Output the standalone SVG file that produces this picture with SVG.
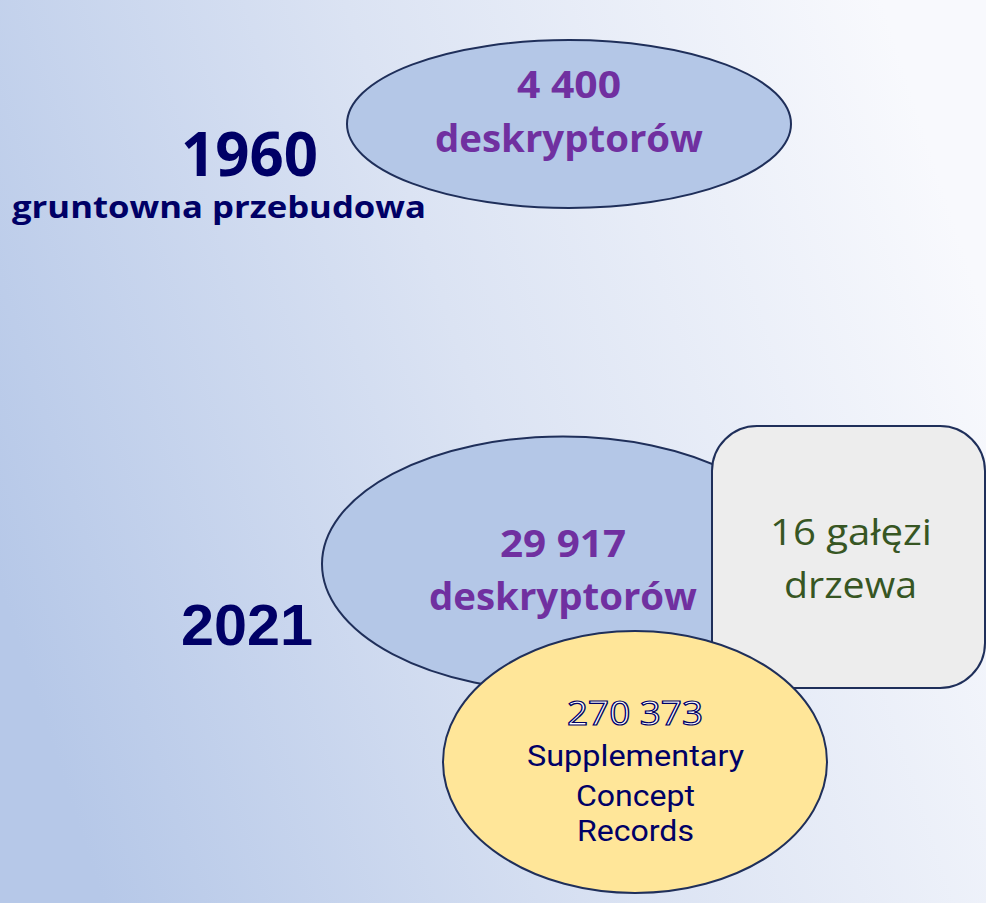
<svg xmlns="http://www.w3.org/2000/svg" width="986" height="903" viewBox="0 0 986 903">
<defs>
<linearGradient id="bg" x1="0" y1="0.65" x2="1" y2="0.35">
<stop offset="0" stop-color="#b6c8e8"/>
<stop offset="0.5" stop-color="#dbe3f3"/>
<stop offset="1" stop-color="#f8f9fd"/>
</linearGradient>
<style>
.shape{stroke:#1f2f5a;stroke-width:2}
.cal{font-family:"Open Sans","Noto Sans",sans-serif;text-anchor:middle}
.purple{fill:#7030a0;font-weight:bold}
.navy{fill:#000066;font-weight:bold}
.green{fill:#375623}
.rob{font-family:Roboto,"Liberation Sans",sans-serif;fill:#000066;text-anchor:middle;font-size:29px}
</style>
</defs>
<rect width="986" height="903" fill="url(#bg)"/>

<g id="label-1960">
<text class="cal navy" x="249.5" y="176" font-size="60" textLength="137" lengthAdjust="spacingAndGlyphs">1960</text>
<text class="cal navy" x="219" y="218" font-size="30" textLength="414" lengthAdjust="spacingAndGlyphs">gruntowna przebudowa</text>
</g>

<g id="node-4400">
<ellipse class="shape" cx="569" cy="124" rx="222" ry="84" fill="#b4c7e7"/>
<text class="cal purple" x="569" y="98" font-size="37" textLength="104" lengthAdjust="spacingAndGlyphs">4 400</text>
<text class="cal purple" x="569" y="152" font-size="37" textLength="268" lengthAdjust="spacingAndGlyphs">deskryptorów</text>
</g>

<g id="label-2021">
<text x="247" y="645" font-family="Liberation Sans,Arial,sans-serif" font-weight="bold" font-size="58" fill="#000066" text-anchor="middle" textLength="132" lengthAdjust="spacingAndGlyphs">2021</text>
</g>

<g id="node-29917">
<ellipse class="shape" cx="563" cy="564" rx="241" ry="127.5" fill="#b4c7e7"/>
<text class="cal purple" x="563" y="557" font-size="37" textLength="126" lengthAdjust="spacingAndGlyphs">29 917</text>
<text class="cal purple" x="563" y="610" font-size="37" textLength="268" lengthAdjust="spacingAndGlyphs">deskryptorów</text>
</g>

<g id="node-galezi">
<rect class="shape" x="712" y="426" width="273" height="262" rx="45" fill="#ededed"/>
<text class="cal green" x="851" y="545" font-size="37" textLength="162" lengthAdjust="spacingAndGlyphs">16 gałęzi</text>
<text class="cal green" x="850.5" y="598" font-size="37" textLength="133" lengthAdjust="spacingAndGlyphs">drzewa</text>
</g>

<g id="node-scr">
<ellipse class="shape" cx="635" cy="762" rx="192" ry="131" fill="#ffe699"/>
<text class="cal" x="635" y="725" font-size="32" fill="#ffffff" stroke="#000066" stroke-width="1.2" textLength="136" lengthAdjust="spacingAndGlyphs">270 373</text>
<text class="rob" x="635.5" y="766" textLength="217" lengthAdjust="spacingAndGlyphs">Supplementary</text>
<text class="rob" x="635.5" y="806" textLength="119" lengthAdjust="spacingAndGlyphs">Concept</text>
<text class="rob" x="635.5" y="841" textLength="117" lengthAdjust="spacingAndGlyphs">Records</text>
</g>

<g id="connectors"></g>
</svg>
